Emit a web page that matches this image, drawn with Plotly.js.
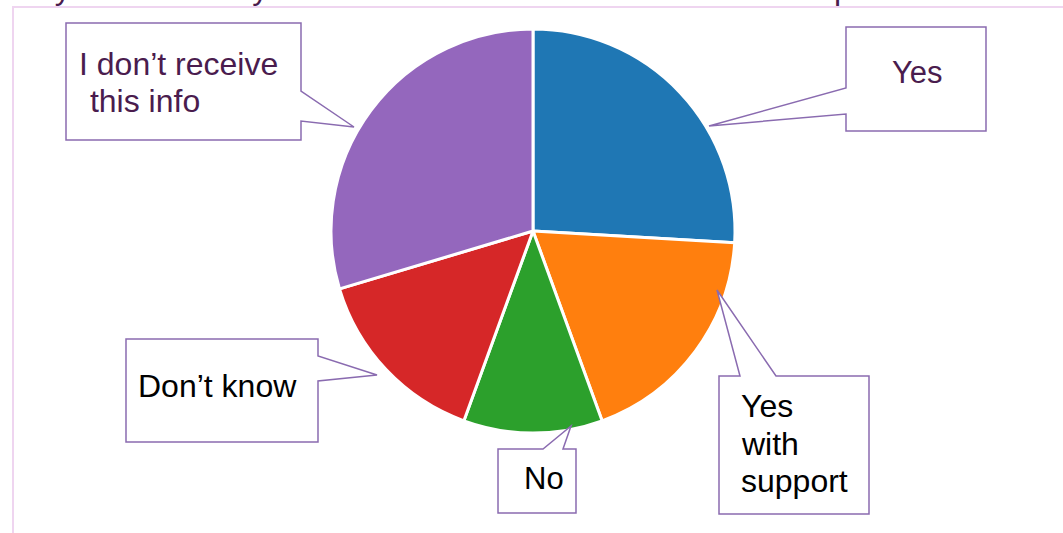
<!DOCTYPE html>
<html>
<head>
<meta charset="utf-8">
<script src="https://cdn.plot.ly/plotly-3.0.1.min.js"></script>
<style>
html,body{margin:0;padding:0;background:#fff;}
#chart{width:1063px;height:533px;}
</style>
</head>
<body>
<div id="chart"></div>
<script>
// ---- data ----
const categories = ["Yes", "Yes with support", "No", "Don’t know", "I don’t receive this info"];
const counts = [7, 5, 3, 4, 8];
const sliceColors = ["#1f77b4", "#ff7f0e", "#2ca02c", "#d62728", "#9467bd"];
const titleText = "Do you find it easy to understand information about health procedures";

// ---- helpers: pixel -> paper ----
const W = 1063, H = 533;
const px = x => x / W;
const py = y => 1 - y / H;
function pathFrom(points) {
  return "M" + points.map(p => px(p[0]).toFixed(5) + "," + py(p[1]).toFixed(5)).join(" L") + " Z";
}

const purpleText = "#4a1c4e";
const boxLine = {color: "#8a6bb0", width: 1.5};

// callout boxes (outline with pointer)
const callouts = [
  [[66,23],[301,23],[301,91],[354,127],[301,121],[301,140],[66,140]],
  [[846,27],[986,27],[986,131],[846,131],[846,114],[709,126],[846,88]],
  [[126,339],[318,339],[318,356],[377,375],[318,381],[318,442],[126,442]],
  [[498,449],[543,449],[571,426],[563,449],[576,449],[576,513],[498,513]],
  [[719,376],[740,376],[717,290],[776,376],[869,376],[869,514],[719,514]]
];

const shapes = callouts.map(pts => ({
  type: "path", xref: "paper", yref: "paper", path: pathFrom(pts),
  line: boxLine, fillcolor: "rgba(255,255,255,1)", layer: "above"
}));
// frame lines
shapes.push({type: "line", xref: "paper", yref: "paper", x0: px(12), x1: px(1063), y0: py(7), y1: py(7),
  line: {color: "#efd5f0", width: 2}});
shapes.push({type: "line", xref: "paper", yref: "paper", x0: px(13), x1: px(13), y0: py(7), y1: py(533),
  line: {color: "#efd5f0", width: 2}});

function label(text, x, y, size, color, anchor) {
  return {text: text, xref: "paper", yref: "paper", x: px(x), y: py(y), xanchor: anchor || "left",
    yanchor: "middle", showarrow: false, font: {family: "Arial, Liberation Sans, sans-serif", size: size, color: color}};
}

const annotations = [
  {text: titleText, xref: "paper", yref: "paper", x: px(996), y: py(8), xanchor: "right", yanchor: "bottom",
   showarrow: false, font: {family: "Arial, Liberation Sans, sans-serif", size: 32, color: purpleText}},
  label("I don’t receive", 77, 64, 32, purpleText),
  label(" this info", 79, 101, 32, purpleText),
  label("Yes", 917, 73, 31, purpleText, "center"),
  label("Don’t know", 136, 386, 32, "#000"),
  label("No", 522, 478, 31, "#000"),
  label("Yes", 739, 406, 32, "#000"),
  label("with", 739, 444, 32, "#000"),
  label("support", 739, 481, 32, "#000")
];

const trace = {
  type: "pie",
  labels: categories,
  values: counts,
  sort: false,
  direction: "clockwise",
  rotation: 0,
  marker: {colors: sliceColors, line: {color: "#ffffff", width: 3}},
  textinfo: "none",
  hoverinfo: "label+value",
  showlegend: false,
  domain: {x: [px(331), px(735)], y: [py(433), py(29)]}
};

const layout = {
  width: W, height: H,
  margin: {l: 0, r: 0, t: 0, b: 0},
  paper_bgcolor: "#ffffff",
  showlegend: false,
  shapes: shapes,
  annotations: annotations
};

Plotly.newPlot("chart", [trace], layout, {displayModeBar: false, staticPlot: true});
</script>
</body>
</html>
